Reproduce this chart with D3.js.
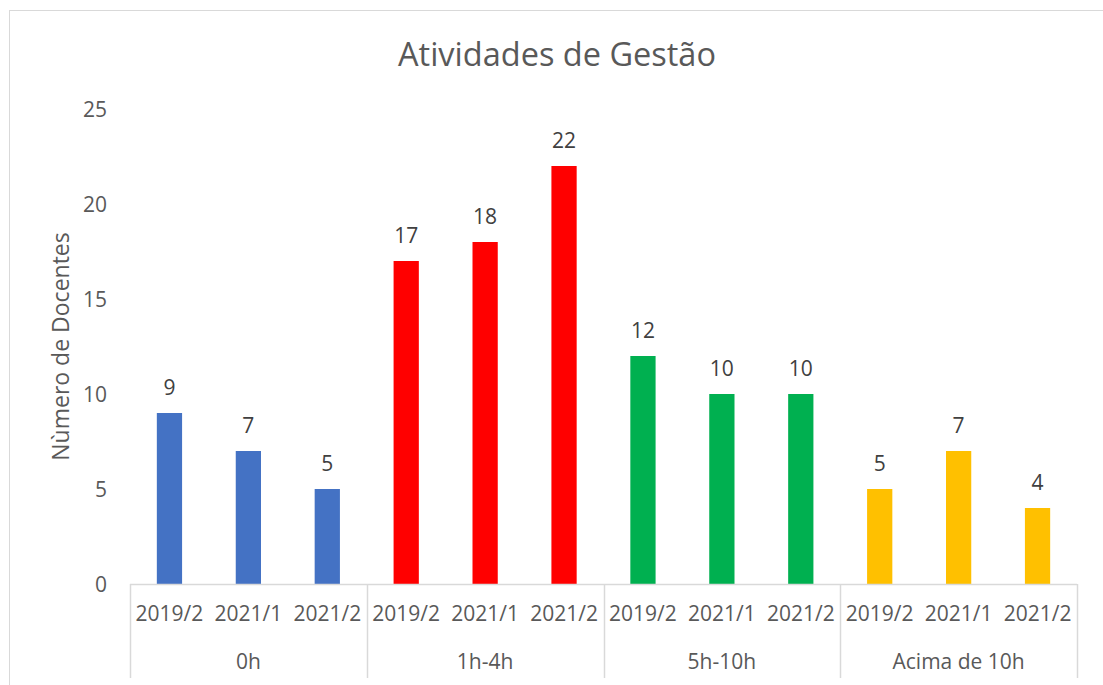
<!DOCTYPE html>
<html>
<head>
<meta charset="utf-8">
<script src="https://cdn.jsdelivr.net/npm/d3@7"></script>
<style>
  body { margin: 0; background: #fff; }
  svg text { font-family: "Open Sans", sans-serif; }
</style>
</head>
<body>
<div id="chart"></div>
<script>
// dados
var grupos = ["0h", "1h-4h", "5h-10h", "Acima de 10h"];
var periodos = ["2019/2", "2021/1", "2021/2"];
var valores0h = [9, 7, 5];
var valores1h4h = [17, 18, 22];
var valores5h10h = [12, 10, 10];
var valoresAcima10h = [5, 7, 4];
var cores = ["#4472C4", "#FF0000", "#00B050", "#FFC000"];
var yTicks = [0, 5, 10, 15, 20, 25];

var series = [valores0h, valores1h4h, valores5h10h, valoresAcima10h];

var width = 1103, height = 685;
var plot = {left: 130, right: 1077, top: 109, bottom: 584};

var svg = d3.select("#chart").append("svg")
  .attr("width", width)
  .attr("height", height);

// moldura do grafico
svg.append("rect")
  .attr("x", 9.5).attr("y", 10.5)
  .attr("width", 1110).attr("height", 700)
  .attr("fill", "none")
  .attr("stroke", "#d9d9d9");

svg.append("text")
  .attr("x", 557).attr("y", 66)
  .attr("text-anchor", "middle")
  .attr("fill", "#595959")
  .style("font-size", "32.5px")
  .text("Atividades de Gestão");

var x0 = d3.scaleBand()
  .domain(grupos)
  .range([plot.left, plot.right]);

var x1 = d3.scaleBand()
  .domain(periodos)
  .range([0, x0.bandwidth()]);

var y = d3.scaleLinear()
  .domain([0, 25])
  .range([plot.bottom, plot.top]);

var barW = x1.bandwidth() * 0.32;

// eixo y (sem linha)
var yAxis = svg.append("g")
  .attr("transform", "translate(" + (plot.left - 23) + ",0)")
  .call(d3.axisLeft(y).tickValues(yTicks).tickSize(0).tickPadding(0));
yAxis.select(".domain").remove();
yAxis.selectAll("text")
  .attr("fill", "#595959")
  .style("font-size", "21px")
  .attr("dy", "0.35em");

svg.append("text")
  .attr("transform", "translate(69," + ((plot.top + plot.bottom) / 2) + ") rotate(-90)")
  .attr("text-anchor", "middle")
  .attr("fill", "#595959")
  .style("font-size", "23px")
  .text("Nùmero de Docentes");

// barras
var grp = svg.append("g").selectAll("g")
  .data(grupos)
  .enter().append("g")
    .attr("transform", function (d) { return "translate(" + x0(d) + ",0)"; });

grp.each(function (g, gi) {
  var el = d3.select(this);
  var dados = periodos.map(function (p, i) { return {p: p, v: series[gi][i]}; });
  el.selectAll("rect")
    .data(dados)
    .enter().append("rect")
      .attr("x", function (d) { return x1(d.p) + (x1.bandwidth() - barW) / 2; })
      .attr("y", function (d) { return y(d.v); })
      .attr("width", barW)
      .attr("height", function (d) { return y(0) - y(d.v); })
      .attr("fill", cores[gi]);
  el.selectAll("text.lbl")
    .data(dados)
    .enter().append("text")
      .attr("class", "lbl")
      .attr("x", function (d) { return x1(d.p) + x1.bandwidth() / 2; })
      .attr("y", function (d) { return y(d.v) - 18; })
      .attr("text-anchor", "middle")
      .attr("fill", "#404040")
      .style("font-size", "21px")
      .text(function (d) { return d.v; });
  el.selectAll("text.per")
    .data(periodos)
    .enter().append("text")
      .attr("class", "per")
      .attr("x", function (d) { return x1(d) + x1.bandwidth() / 2; })
      .attr("y", 621)
      .attr("text-anchor", "middle")
      .attr("fill", "#595959")
      .style("font-size", "21px")
      .text(function (d) { return d; });
  el.append("text")
    .attr("x", x0.bandwidth() / 2)
    .attr("y", 669)
    .attr("text-anchor", "middle")
    .attr("fill", "#595959")
    .style("font-size", "21px")
    .text(g);
});

// eixo x com separadores de grupo
svg.append("line")
  .attr("x1", plot.left).attr("x2", plot.right)
  .attr("y1", plot.bottom + 0.5).attr("y2", plot.bottom + 0.5)
  .attr("stroke", "#d9d9d9").attr("stroke-width", 1.5);

var seps = grupos.map(function (g) { return x0(g); }).concat([plot.right]);
svg.append("g").selectAll("line")
  .data(seps)
  .enter().append("line")
    .attr("x1", function (d) { return Math.round(d) + 0.5; })
    .attr("x2", function (d) { return Math.round(d) + 0.5; })
    .attr("y1", plot.bottom)
    .attr("y2", 678)
    .attr("stroke", "#d9d9d9").attr("stroke-width", 1.5);
</script>
</body>
</html>
